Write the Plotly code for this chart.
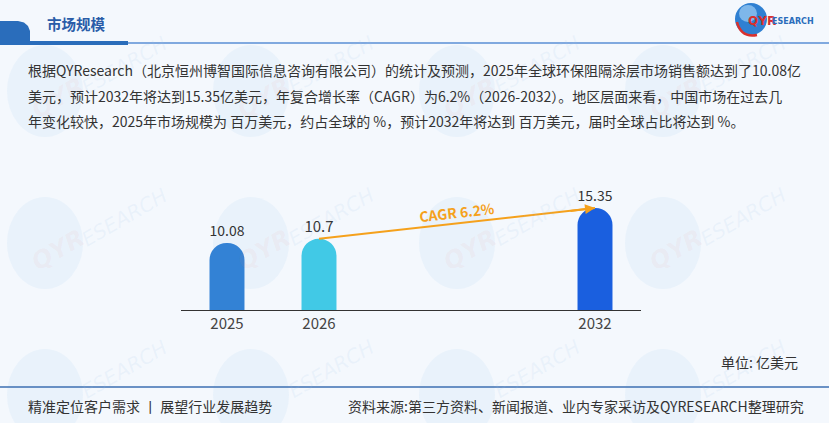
import plotly.graph_objects as go

# canvas size of the reference picture
W, H = 829, 423

# Data
years = ["2025", "2026", "2032"]
market_size = [10.08, 10.7, 15.35]          # 亿美元
slot = [0, 1, 4]                            # bar slots on the axis, 2 empty slots before 2032
cagr_label = "CAGR 6.2%"
title_text = "市场规模"
unit_text = "单位: 亿美元"
summary_lines = [
    "根据QYResearch（北京恒州博智国际信息咨询有限公司）的统计及预测，2025年全球环保阻隔涂层市场销售额达到了10.08亿",
    "美元，预计2032年将达到15.35亿美元，年复合增长率（CAGR）为6.2%（2026-2032）。地区层面来看，中国市场在过去几",
    "年变化较快，2025年市场规模为 百万美元，约占全球的 %，预计2032年将达到 百万美元，届时全球占比将达到 %。",
]
footer_left = "精准定位客户需求 丨 展望行业发展趋势"
footer_right = "资料来源:第三方资料、新闻报道、业内专家采访及QYRESEARCH整理研究"

bar_colors = ["#3382D5", "#41C9E6", "#1A5FDF"]
FONT = "Noto Sans CJK SC"


def px(x):
    return x / W


def py(y):
    return 1 - y / H


def path_from(points):
    # build a closed svg path in paper coords from pixel points
    s = "M " + " L ".join(f"{px(a):.5f},{py(b):.5f}" for a, b in points)
    return s + " Z"


def label(x, y, text, size, color, anchor="left", family=FONT, angle=0):
    # free text placed by pixel position (centre line at y)
    return dict(xref="paper", yref="paper", x=px(x), y=py(y), xanchor=anchor, yanchor="middle",
                text=text, showarrow=False, textangle=angle,
                font=dict(size=size, color=color, family=family))


####################################################################################################################
# bars

fig = go.Figure()
fig.add_trace(go.Bar(
    x=slot, y=market_size,
    marker=dict(color=bar_colors, cornerradius=17, line=dict(width=0)),
    width=0.38,
    texttemplate="%{y}", textposition="outside",
    textfont=dict(size=15, color="#333333", family=FONT),
    cliponaxis=False, hoverinfo="skip",
))

shapes = []
annotations = []

# faint QYResearch watermarks (bottom row sits under the footer, circles only)
for wy in [91, 243, 395]:
    for wx in [45, 251, 457, 663]:
        shapes.append(dict(type="circle", xref="paper", yref="paper", layer="below",
                           x0=px(wx - 38), x1=px(wx + 38), y0=py(wy + 46), y1=py(wy - 46),
                           fillcolor="rgba(190,222,246,0.2)", line=dict(width=0)))
        if wy < 300:
            annotations.append(label(wx + 13, wy + 7, "<i><b>QYR</b></i>", 24, "rgba(235,130,130,0.07)",
                                     anchor="center", family="DejaVu Sans", angle=-30))
        annotations.append(label(wx + 80, wy - 26, "<i>ESEARCH</i>", 20, "rgba(160,195,235,0.13)",
                                 anchor="center", family="DejaVu Sans", angle=-30))

# header: blue tab + thick line + thin line
shapes.append(dict(type="path", xref="paper", yref="paper",
                   path=path_from([(0, 21), (18, 21), (24, 22.5), (28, 26), (30, 31), (30, 41), (0, 41)]),
                   fillcolor="#2A6DBB", line=dict(width=0)))
shapes.append(dict(type="rect", xref="paper", yref="paper", x0=0, x1=px(128), y0=py(45), y1=py(41),
                   fillcolor="#2A6DBB", line=dict(width=0)))
shapes.append(dict(type="line", xref="paper", yref="paper", x0=px(128), x1=1, y0=py(43), y1=py(43),
                   line=dict(color="#5A8FD5", width=1.5)))

# logo globe
shapes.append(dict(type="circle", xref="paper", yref="paper", x0=px(735), x1=px(767), y0=py(35), y1=py(3),
                   fillcolor="#2F80D2", line=dict(width=0)))
shapes.append(dict(type="circle", xref="paper", yref="paper", x0=px(739), x1=px(757), y0=py(22), y1=py(5),
                   fillcolor="rgba(180,220,250,0.6)", line=dict(width=0)))
shapes.append(dict(type="path", xref="paper", yref="paper",
                   path=f"M {px(737):.5f},{py(22):.5f} Q {px(741):.5f},{py(38):.5f} {px(757):.5f},{py(35):.5f}",
                   line=dict(color="#D8302E", width=2.5)))

# footer line
shapes.append(dict(type="line", xref="paper", yref="paper", x0=0, x1=1, y0=py(387), y1=py(387),
                   line=dict(color="#3C6FB2", width=1.5)))

# CAGR arrow, drawn as a line + arrowhead from 2026 bar top to 2032 bar top
shapes.append(dict(type="line", xref="x", yref="y", x0=slot[1], y0=market_size[1],
                   x1=slot[2], y1=market_size[2], line=dict(color="#F5A11C", width=2)))
annotations.append(dict(x=slot[2], y=market_size[2], ax=slot[2] - 0.3, ay=market_size[2] - 0.5,
                        xref="x", yref="y", axref="x", ayref="y", text=" ",
                        showarrow=True, arrowhead=2, arrowsize=1, arrowwidth=2,
                        arrowcolor="#F5A11C", standoff=0))

# header texts
annotations.append(label(45, 24, f"<b>{title_text}</b>", 14.5, "#2A5CA8"))
annotations.append(label(746, 21, "<b>QYR</b>", 12, "#D8302E", family="DejaVu Sans"))
annotations.append(label(770, 21.5, "<b>ESEARCH</b>", 8, "#2A6DBB", family="DejaVu Sans"))

# summary paragraph
for i, line in enumerate(summary_lines):
    annotations.append(label(26, 70 + 25.5 * i, line, 14, "#333333"))

annotations.append(label(457, 212, f"<b>{cagr_label}</b>", 14, "#F5A11C", anchor="center", angle=-6.4))

# unit and footer texts
annotations.append(label(800, 362, unit_text, 14, "#333333", anchor="right"))
annotations.append(label(26, 406, footer_left, 14, "#333333"))
annotations.append(label(806, 406, footer_right, 14, "#333333", anchor="right"))

fig.update_layout(
    width=W, height=H,
    margin=dict(l=0, r=0, t=0, b=0, pad=0),
    paper_bgcolor="#F4F8FD", plot_bgcolor="rgba(0,0,0,0)",
    showlegend=False,
    shapes=shapes, annotations=annotations,
    xaxis=dict(domain=[px(181), px(641)], range=[-0.5, 4.5],
               tickvals=slot, ticktext=years,
               showline=True, linecolor="#333333", linewidth=1.2,
               showgrid=False, zeroline=False, ticks="", automargin=False,
               tickfont=dict(size=15, color="#444444", family=FONT),
               fixedrange=True),
    yaxis=dict(domain=[py(310), py(177)], range=[0, 20], automargin=False,
               visible=False, showgrid=False, zeroline=False, fixedrange=True),
)

fig.write_html("out.html", config={"displayModeBar": False},
               post_script="document.body.style.margin='0';")
